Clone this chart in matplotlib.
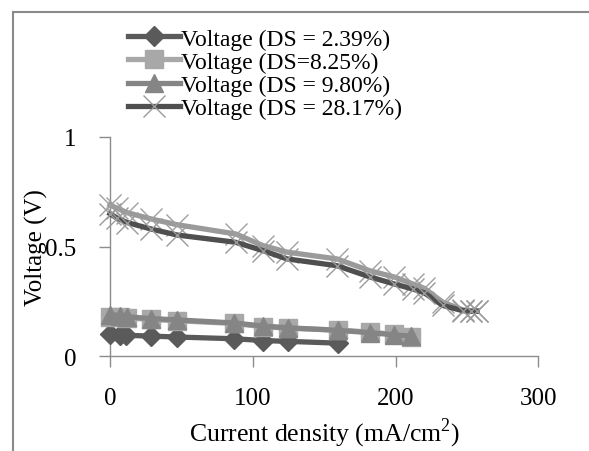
import matplotlib
matplotlib.use("Agg")
import matplotlib.pyplot as plt
from matplotlib.patches import Rectangle

plt.rcParams['font.family'] = ['Liberation Serif', 'DejaVu Serif']
plt.rcParams['mathtext.fontset'] = 'custom'
plt.rcParams['mathtext.rm'] = 'Liberation Serif'

# Current density (mA/cm2) and cell voltage (V) for each degree of substitution
i_ds239 = [0, 7, 11, 29, 47, 87, 107, 125, 160]
v_ds239 = [0.100, 0.098, 0.096, 0.092, 0.088, 0.080, 0.072, 0.068, 0.060]

i_ds825 = [0, 7, 12, 29, 47, 87, 107, 125, 160, 182, 199, 211]
v_ds825 = [0.180, 0.178, 0.175, 0.168, 0.162, 0.150, 0.135, 0.128, 0.120, 0.110, 0.100, 0.090]

i_ds980 = [0, 7, 12, 29, 47, 87, 107, 125, 160, 182, 199, 211]
v_ds980 = [0.190, 0.186, 0.180, 0.172, 0.166, 0.152, 0.138, 0.130, 0.118, 0.108, 0.098, 0.092]

i_ds2817 = [0, 5, 12, 29, 47, 88, 107, 124, 159, 182, 199, 212, 220, 233, 247, 253, 257]
v_ds2817 = [0.650, 0.630, 0.610, 0.580, 0.553, 0.520, 0.482, 0.444, 0.413, 0.362,
            0.330, 0.307, 0.290, 0.232, 0.208, 0.205, 0.205]

# Repeat run at DS = 28.17%
i_ds2817_rep = [0, 5, 12, 29, 47, 88, 107, 124, 159, 182, 199, 212, 220, 233, 247, 253, 257]
v_ds2817_rep = [0.690, 0.675, 0.655, 0.626, 0.600, 0.558, 0.505, 0.475, 0.444, 0.390,
                0.362, 0.330, 0.310, 0.247, 0.212, 0.208, 0.208]

x_ticks = [0, 100, 200, 300]
y_ticks = [0, 0.5, 1]
y_tick_labels = ["0", "0.5", "1"]

fig = plt.figure(figsize=(5.89, 4.52), dpi=100)
ax = fig.add_axes([0.1868, 0.2095, 0.7272, 0.4852])

lw = 3.8
ax.plot(i_ds2817_rep, v_ds2817_rep, color='#9a9a9a', lw=lw, marker='x', ms=16,
        mew=1.0, mec='#a0a0a0', clip_on=False, zorder=3)
ax.plot(i_ds2817, v_ds2817, color='#4f4f4f', lw=lw, marker='x', ms=16, mew=1.0,
        mec='#9a9a9a', clip_on=False, zorder=4, label='Voltage (DS = 28.17%)')
ax.plot(i_ds239, v_ds239, color='#5a5a5a', lw=lw, marker='D', ms=10,
        clip_on=False, zorder=5, label='Voltage (DS = 2.39%)')
ax.plot(i_ds825, v_ds825, color='#a8a8a8', lw=lw, marker='s', ms=13,
        clip_on=False, zorder=5, label='Voltage (DS=8.25%)')
ax.plot(i_ds980, v_ds980, color='#858585', lw=lw, marker='^', ms=13,
        clip_on=False, zorder=6, label='Voltage (DS = 9.80%)')

ax.set_xlim(0, 300)
ax.set_ylim(0, 1)
ax.set_xticks(x_ticks)
ax.set_yticks(y_ticks)
ax.set_yticklabels(y_tick_labels)

for s in ['top', 'right']:
    ax.spines[s].set_visible(False)
for s in ['left', 'bottom']:
    ax.spines[s].set_color('#8c8c8c')
    ax.spines[s].set_linewidth(1.0)

ax.tick_params(axis='both', direction='out', length=8, width=1.0, color='#8c8c8c',
               labelsize=18)
ax.tick_params(axis='x', pad=14)
ax.tick_params(axis='y', pad=16)

ax.set_ylabel('Voltage (V)', fontsize=18, labelpad=0)
ax.yaxis.set_label_coords(-0.145, 0.5)
ax.set_xlabel('Current density (mA/cm$^{2}$)', fontsize=18.5)
ax.xaxis.set_label_coords(0.5, -0.272)

handles, labels = ax.get_legend_handles_labels()
order = ['Voltage (DS = 2.39%)', 'Voltage (DS=8.25%)',
         'Voltage (DS = 9.80%)', 'Voltage (DS = 28.17%)']
hl = dict(zip(labels, handles))
fig.legend([hl[k] for k in order], order, loc='upper left',
           bbox_to_anchor=(128 / 589, 1 - 29 / 452), frameon=False,
           fontsize=17, handlelength=2.2, handletextpad=0.05,
           labelspacing=0.07, borderpad=0, borderaxespad=0)

# Outer chart frame
fig.patches.append(Rectangle((13 / 589, -0.1), 1.2, 1 - 13 / 452 + 0.1,
                             transform=fig.transFigure, fill=False,
                             edgecolor='#8a8a8a', lw=1.5))

fig.savefig('out.png', dpi=100)
